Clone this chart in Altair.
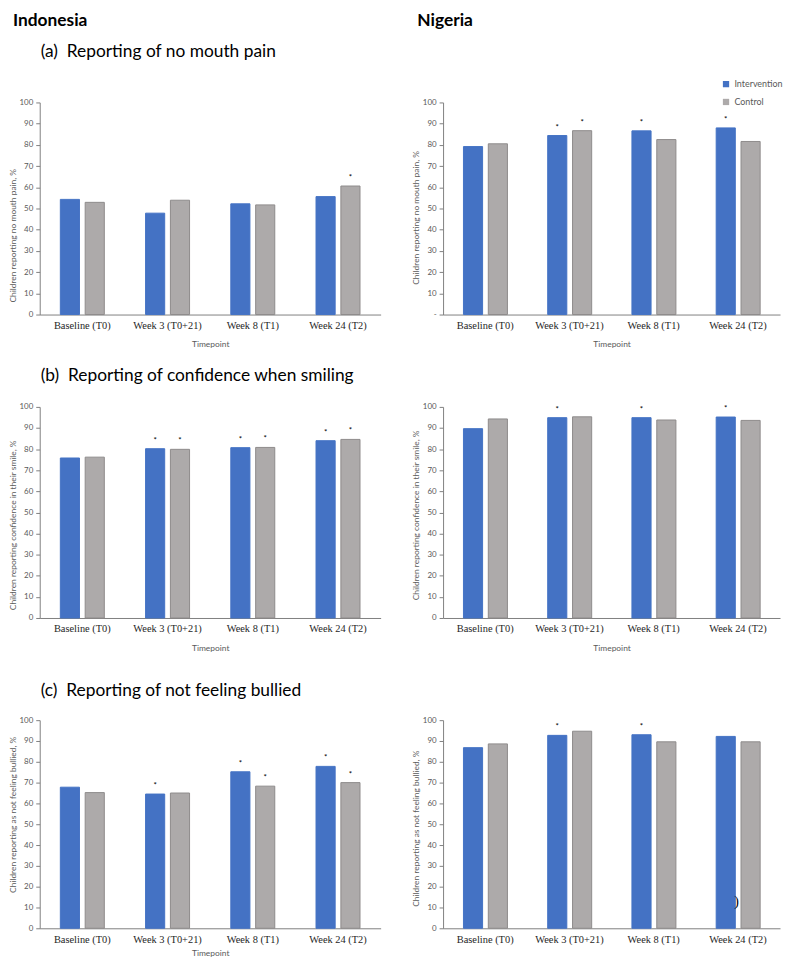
import altair as alt
import pandas as pd

timepoints = ["Baseline (T0)", "Week 3 (T0+21)", "Week 8 (T1)", "Week 24 (T2)"]
groups = ["Intervention", "Control"]
fill_colors = ["#4472C4", "#ADAAAA"]
stroke_colors = ["#4472C4", "#8E8B8B"]

# (a) Reporting of no mouth pain
ind_a_int = [54.3, 47.8, 52.2, 55.6]
ind_a_ctl = [52.9, 53.9, 51.7, 60.6]
ind_a_int_sig = [0, 0, 0, 0]
ind_a_ctl_sig = [0, 0, 0, 1]
nig_a_int = [79.2, 84.4, 86.6, 88.0]
nig_a_ctl = [80.5, 86.7, 82.5, 81.6]
nig_a_int_sig = [0, 1, 1, 1]
nig_a_ctl_sig = [0, 1, 0, 0]

# (b) Reporting of confidence when smiling
ind_b_int = [75.8, 80.2, 80.7, 84.0]
ind_b_ctl = [76.2, 79.9, 80.8, 84.6]
ind_b_int_sig = [0, 1, 1, 1]
ind_b_ctl_sig = [0, 1, 1, 1]
nig_b_int = [89.7, 94.9, 94.9, 95.2]
nig_b_ctl = [94.3, 95.3, 93.8, 93.6]
nig_b_int_sig = [0, 1, 1, 1]
nig_b_ctl_sig = [0, 0, 0, 0]

# (c) Reporting of not feeling bullied
ind_c_int = [67.8, 64.5, 75.2, 77.8]
ind_c_ctl = [65.2, 65.0, 68.3, 70.0]
ind_c_int_sig = [0, 1, 1, 1]
ind_c_ctl_sig = [0, 0, 1, 1]
nig_c_int = [86.8, 92.7, 93.0, 92.2]
nig_c_ctl = [88.6, 94.7, 89.6, 89.6]
nig_c_int_sig = [0, 1, 1, 0]
nig_c_ctl_sig = [0, 0, 0, 0]

y_ticks = list(range(0, 101, 10))

LW, RW = 344, 340
SANS = "Lato"
NB = "\u00a0"


def panel(int_vals, ctl_vals, int_sig, ctl_sig, ytitle, xtitle, width, height,
          title_y, title=None, legend=False, zero_dash=False, stray=None,
          x_title_pad=9):
    df = pd.DataFrame({
        "tp": timepoints * 2,
        "group": ["Intervention"] * 4 + ["Control"] * 4,
        "value": int_vals + ctl_vals,
        "star": ["*" if s else "" for s in int_sig + ctl_sig],
    })
    yaxis_kw = dict(
        title=ytitle, values=y_ticks, grid=False, domainColor="#7F7F7F",
        tickColor="#7F7F7F", tickSize=4, labelFont=SANS, labelFontSize=8,
        labelColor="#595959", labelPadding=3, labelFlush=False, titleFont=SANS,
        titleFontSize=8.5, titleFontWeight="normal", titleColor="#595959",
        titlePadding=2, titleY=title_y,
    )
    if zero_dash:
        yaxis_kw["labelExpr"] = "datum.value == 0 ? '-' : datum.label"
    x = alt.X(
        "tp:N", sort=timepoints,
        scale=alt.Scale(domain=timepoints, paddingInner=0.484, paddingOuter=0.242),
        axis=alt.Axis(
            title=xtitle, labelAngle=0, ticks=False, domainColor="#7F7F7F",
            labelFont="Liberation Serif", labelFontSize=10.5,
            labelColor="#262626", labelPadding=6, titleFont=SANS,
            titleFontSize=8.5, titleFontWeight="normal", titleColor="#595959",
            titlePadding=x_title_pad, grid=False,
        ),
    )
    xo = alt.XOffset("group:N", sort=groups,
                     scale=alt.Scale(domain=groups, paddingInner=0.23, paddingOuter=0))
    y = alt.Y("value:Q", scale=alt.Scale(domain=[0, 100], nice=False),
              axis=alt.Axis(**yaxis_kw))
    if legend:
        leg = alt.Legend(title=None, orient="none", legendX=281, legendY=-23,
                         symbolType="square", symbolSize=40, labelFont=SANS,
                         labelFontSize=9, labelColor="#595959", rowPadding=8,
                         symbolStrokeWidth=0, padding=0)
    else:
        leg = None
    base = alt.Chart(df)
    bars = base.mark_bar(strokeWidth=1).encode(
        x=x, xOffset=xo, y=y,
        color=alt.Color("group:N", sort=groups,
                        scale=alt.Scale(domain=groups, range=fill_colors), legend=leg),
        stroke=alt.Stroke("group:N", sort=groups,
                          scale=alt.Scale(domain=groups, range=stroke_colors), legend=None),
    )
    stars = base.mark_text(baseline="alphabetic", dy=-6, fontSize=8, font=SANS,
                           color="#000000").encode(x=x, xOffset=xo, y=y, text="star:N")
    layers = [bars, stars]
    if stray is not None:
        sdf = pd.DataFrame(stray)
        layers.append(
            alt.Chart(sdf).mark_text(font="Liberation Serif", fontSize=14, dx=11,
                                     color="#000000").encode(
                x=x, xOffset=xo, y=y, text="txt:N")
        )
    props = dict(width=width, height=height)
    if title is not None:
        props["title"] = title
    return alt.layer(*layers).properties(**props)


def section_title(text, offset):
    return alt.Title(text, anchor="start", frame="group", dx=1, offset=offset,
                     font=SANS, fontSize=17.5, fontWeight="normal", color="#000000")


def header(text, width, dx):
    return alt.Chart(pd.DataFrame({"a": [0]})).mark_text(text="").properties(
        width=width, height=1,
        title=alt.Title(text, anchor="start", frame="group", dx=dx, offset=0,
                        font=SANS, fontSize=17.5, fontWeight="bold", color="#000000"),
    )


def indep(c):
    return c.resolve_scale(color="independent", stroke="independent")


head = indep(alt.hconcat(header("Indonesia", LW, -27), header("Nigeria", RW, 0), spacing=37))

row_a = indep(alt.hconcat(
    panel(ind_a_int, ind_a_ctl, ind_a_int_sig, ind_a_ctl_sig,
          "Children reporting no mouth pain, %", "Timepoint", LW, 214, 134,
          title=section_title("(a)" + NB + " Reporting of no mouth pain", 38)),
    panel(nig_a_int, nig_a_ctl, nig_a_int_sig, nig_a_ctl_sig,
          "Children reporting no mouth pain, %", "Timepoint", RW, 214, 116,
          legend=True, zero_dash=True),
    spacing=31,
))

row_b = indep(alt.hconcat(
    panel(ind_b_int, ind_b_ctl, ind_b_int_sig, ind_b_ctl_sig,
          "Children reporting confidence in their smile, %", "Timepoint", LW, 213, 119,
          title=section_title("(b)" + NB + " Reporting of confidence when smiling", 19)),
    panel(nig_b_int, nig_b_ctl, nig_b_int_sig, nig_b_ctl_sig,
          "Children reporting confidence in their smile, %", "Timepoint", RW, 213, 109),
    spacing=31,
))

row_c = indep(alt.hconcat(
    panel(ind_c_int, ind_c_ctl, ind_c_int_sig, ind_c_ctl_sig,
          "Children reporting as not feeling bullied, %", "Timepoint", LW, 210, 95,
          title=section_title("(c)" + NB + " Reporting of not feeling bullied", 17),
          x_title_pad=4),
    panel(nig_c_int, nig_c_ctl, nig_c_int_sig, nig_c_ctl_sig,
          "Children reporting as not feeling bullied, %", None, RW, 210, 109,
          stray={"tp": ["Week 24 (T2)"], "group": ["Intervention"],
                 "value": [12.6], "txt": [")"]}),
    spacing=31,
))

ab = indep(alt.vconcat(row_a, row_b, spacing=18.2))
abc = indep(alt.vconcat(ab, row_c, spacing=29.3))
chart = indep(alt.vconcat(head, abc, spacing=2)).properties(
    padding={"left": 0, "top": 0, "right": 0, "bottom": 0}
).configure_view(stroke=None).configure_axis(grid=False)

chart.save("out.html", embed_options={"renderer": "svg", "actions": False})
